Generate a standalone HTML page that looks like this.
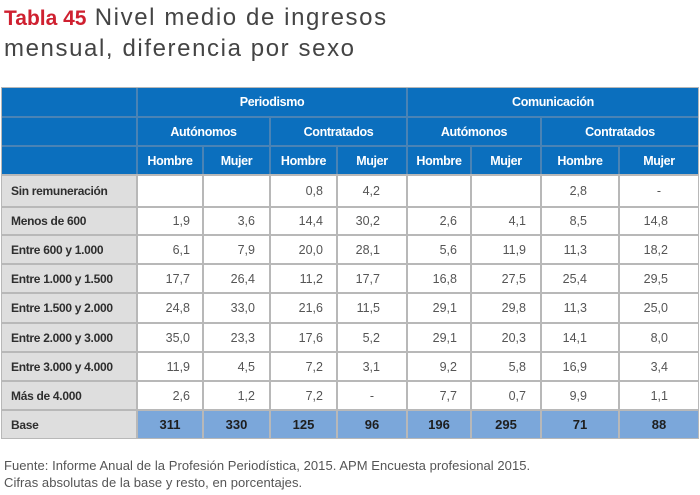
<!DOCTYPE html>
<html>
<head>
<meta charset="utf-8">
<style>
  html,body{margin:0;padding:0;background:#fff;}
  body{width:700px;height:495px;position:relative;overflow:hidden;font-family:"Liberation Sans",Arial,sans-serif;}
  .title{position:absolute;left:4px;top:3px;font-size:24px;line-height:30px;color:#444;letter-spacing:1.6px;white-space:nowrap;}
  .title b{color:#cf2030;font-size:21px;letter-spacing:0;font-weight:bold;}
  .bg-gray{position:absolute;left:1px;top:87px;width:698px;height:352px;background:#b8b8b8;}
  .bg-head{position:absolute;left:2px;top:88px;width:696px;height:86px;background:#4a83b5;}
  .grid{position:absolute;left:1px;top:87px;width:698px;height:352px;box-sizing:border-box;padding:1px;display:grid;
    grid-template-columns:134px 64px 65px 65px 68px 62px 68px 76px 78px;
    grid-template-rows:28px 27px 27px 30px 26px 27px 27px 28px 27px 27px 27px 27px;
    gap:2px;}
  .h{background:#0b6fbe;color:#fff;font-weight:bold;font-size:12.5px;letter-spacing:-0.35px;display:flex;align-items:center;justify-content:center;}
  .l{background:#dedede;color:#2e2e2e;font-weight:bold;font-size:12px;letter-spacing:-0.3px;display:flex;align-items:center;padding-left:9px;white-space:nowrap;}
  .d{background:#fff;color:#555;font-size:12.5px;display:flex;align-items:center;justify-content:flex-end;}
  .d.c{justify-content:center;}
  .b{background:#7ba7da;color:#1e1e1e;font-weight:bold;font-size:13px;display:flex;align-items:center;justify-content:center;}
  .p1{padding-right:12px}.p2{padding-right:14px}.p3{padding-right:13px}.p4{padding-right:26px}
  .p5{padding-right:13px}.p6{padding-right:14px}.p7{padding-right:31px}.p8{padding-right:30px}
  .c.p1,.c.p2,.c.p3,.c.p4,.c.p5,.c.p6,.c.p7,.c.p8{padding-right:0}
  .foot{position:absolute;left:4px;top:457px;font-size:13px;line-height:17px;color:#555;white-space:nowrap;letter-spacing:0.05px;}
</style>
</head>
<body>
<div class="title"><b>Tabla 45</b> Nivel medio de ingresos<br>mensual, diferencia por sexo</div>

<div class="bg-gray"></div>
<div class="bg-head"></div>
<div class="grid">
  <div class="h"></div>
  <div class="h" style="grid-column:2 / 6">Periodismo</div>
  <div class="h" style="grid-column:6 / 10">Comunicación</div>

  <div class="h"></div>
  <div class="h" style="grid-column:2 / 4">Autónomos</div>
  <div class="h" style="grid-column:4 / 6">Contratados</div>
  <div class="h" style="grid-column:6 / 8">Autómonos</div>
  <div class="h" style="grid-column:8 / 10">Contratados</div>

  <div class="h"></div>
  <div class="h">Hombre</div><div class="h">Mujer</div>
  <div class="h">Hombre</div><div class="h">Mujer</div>
  <div class="h">Hombre</div><div class="h">Mujer</div>
  <div class="h">Hombre</div><div class="h">Mujer</div>

  <div class="l">Sin remuneración</div>
  <div class="d p1"></div><div class="d p2"></div><div class="d p3">0,8</div><div class="d p4">4,2</div>
  <div class="d p5"></div><div class="d p6"></div><div class="d p7">2,8</div><div class="d c p8">-</div>

  <div class="l">Menos de 600</div>
  <div class="d p1">1,9</div><div class="d p2">3,6</div><div class="d p3">14,4</div><div class="d p4">30,2</div>
  <div class="d p5">2,6</div><div class="d p6">4,1</div><div class="d p7">8,5</div><div class="d p8">14,8</div>

  <div class="l">Entre 600 y 1.000</div>
  <div class="d p1">6,1</div><div class="d p2">7,9</div><div class="d p3">20,0</div><div class="d p4">28,1</div>
  <div class="d p5">5,6</div><div class="d p6">11,9</div><div class="d p7">11,3</div><div class="d p8">18,2</div>

  <div class="l">Entre 1.000 y 1.500</div>
  <div class="d p1">17,7</div><div class="d p2">26,4</div><div class="d p3">11,2</div><div class="d p4">17,7</div>
  <div class="d p5">16,8</div><div class="d p6">27,5</div><div class="d p7">25,4</div><div class="d p8">29,5</div>

  <div class="l">Entre 1.500 y 2.000</div>
  <div class="d p1">24,8</div><div class="d p2">33,0</div><div class="d p3">21,6</div><div class="d p4">11,5</div>
  <div class="d p5">29,1</div><div class="d p6">29,8</div><div class="d p7">11,3</div><div class="d p8">25,0</div>

  <div class="l">Entre 2.000 y 3.000</div>
  <div class="d p1">35,0</div><div class="d p2">23,3</div><div class="d p3">17,6</div><div class="d p4">5,2</div>
  <div class="d p5">29,1</div><div class="d p6">20,3</div><div class="d p7">14,1</div><div class="d p8">8,0</div>

  <div class="l">Entre 3.000 y 4.000</div>
  <div class="d p1">11,9</div><div class="d p2">4,5</div><div class="d p3">7,2</div><div class="d p4">3,1</div>
  <div class="d p5">9,2</div><div class="d p6">5,8</div><div class="d p7">16,9</div><div class="d p8">3,4</div>

  <div class="l">Más de 4.000</div>
  <div class="d p1">2,6</div><div class="d p2">1,2</div><div class="d p3">7,2</div><div class="d c p4">-</div>
  <div class="d p5">7,7</div><div class="d p6">0,7</div><div class="d p7">9,9</div><div class="d p8">1,1</div>

  <div class="l">Base</div>
  <div class="b">311</div><div class="b">330</div><div class="b">125</div><div class="b">96</div>
  <div class="b">196</div><div class="b">295</div><div class="b">71</div><div class="b">88</div>
</div>

<div class="foot">Fuente: Informe Anual de la Profesión Periodística, 2015. APM Encuesta profesional 2015.<br>Cifras absolutas de la base y resto, en porcentajes.</div>
</body>
</html>
